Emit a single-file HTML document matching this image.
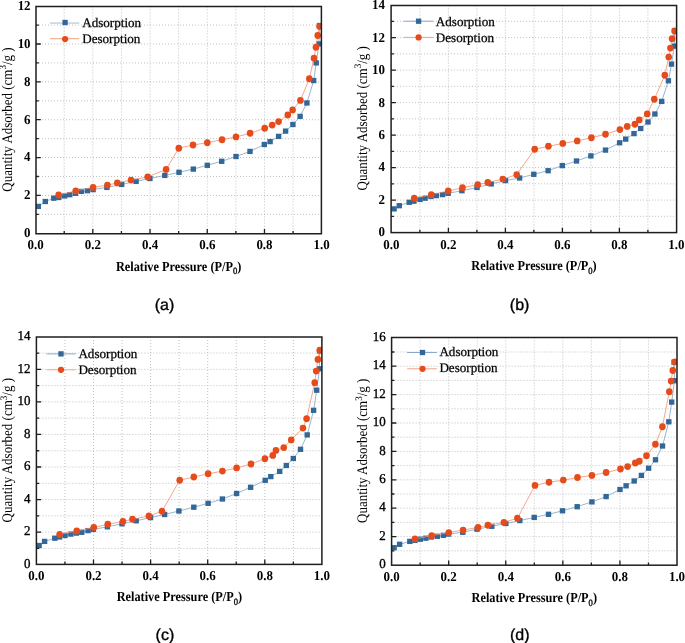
<!DOCTYPE html>
<html><head><meta charset="utf-8"><style>
html,body{margin:0;padding:0;background:#fff;}
body{width:685px;height:643px;overflow:hidden;position:relative;}
svg{position:absolute;left:0;top:0;will-change:transform;}
</style></head><body>
<svg width="685" height="643" viewBox="0 0 685 643" text-rendering="geometricPrecision">
<path d="M64.21 6.5V233.75M92.82 6.5V233.75M121.43 6.5V233.75M150.04 6.5V233.75M178.65 6.5V233.75M207.26 6.5V233.75M235.87 6.5V233.75M264.48 6.5V233.75M293.09 6.5V233.75M36 214.37H321.4M36 195.44H321.4M36 176.51H321.4M36 157.58H321.4M36 138.65H321.4M36 119.72H321.4M36 100.79H321.4M36 81.86H321.4M36 62.93H321.4M36 44H321.4M36 25.07H321.4" stroke="#b0b0b0" stroke-width="0.8" stroke-dasharray="1 2" fill="none"/>
<clipPath id="clipa"><rect x="36" y="6.5" width="285.4" height="227.25"/></clipPath><g clip-path="url(#clipa)">
<polyline points="38.3,206.4 45.3,201.5 53.8,198.2 58.8,197.5 64.6,195.9 69.7,194.7 75.5,193.3 81.4,191.4 87.4,190.7 93.1,189.6 106.9,187.4 121.7,184.4 136.1,181.4 149.9,178.5 164.8,175.4 179,172.3 193.3,169.1 207.3,165.3 221.7,161.3 236,156.5 250,151.4 264.3,144.5 270.1,141.6 278.6,136.4 285.6,131.1 292.9,124.5 300.1,116.4 306.9,103 313.7,80.6 316.2,62.9 318.9,43.9 319.5,25.5" stroke="#7fa3c8" stroke-width="0.8" fill="none"/>
<g fill="#336797"><rect x="35.6" y="203.75" width="5.4" height="5.3"/><rect x="42.6" y="198.85" width="5.4" height="5.3"/><rect x="51.1" y="195.55" width="5.4" height="5.3"/><rect x="56.1" y="194.85" width="5.4" height="5.3"/><rect x="61.9" y="193.25" width="5.4" height="5.3"/><rect x="67" y="192.05" width="5.4" height="5.3"/><rect x="72.8" y="190.65" width="5.4" height="5.3"/><rect x="78.7" y="188.75" width="5.4" height="5.3"/><rect x="84.7" y="188.05" width="5.4" height="5.3"/><rect x="90.4" y="186.95" width="5.4" height="5.3"/><rect x="104.2" y="184.75" width="5.4" height="5.3"/><rect x="119" y="181.75" width="5.4" height="5.3"/><rect x="133.4" y="178.75" width="5.4" height="5.3"/><rect x="147.2" y="175.85" width="5.4" height="5.3"/><rect x="162.1" y="172.75" width="5.4" height="5.3"/><rect x="176.3" y="169.65" width="5.4" height="5.3"/><rect x="190.6" y="166.45" width="5.4" height="5.3"/><rect x="204.6" y="162.65" width="5.4" height="5.3"/><rect x="219" y="158.65" width="5.4" height="5.3"/><rect x="233.3" y="153.85" width="5.4" height="5.3"/><rect x="247.3" y="148.75" width="5.4" height="5.3"/><rect x="261.6" y="141.85" width="5.4" height="5.3"/><rect x="267.4" y="138.95" width="5.4" height="5.3"/><rect x="275.9" y="133.75" width="5.4" height="5.3"/><rect x="282.9" y="128.45" width="5.4" height="5.3"/><rect x="290.2" y="121.85" width="5.4" height="5.3"/><rect x="297.4" y="113.75" width="5.4" height="5.3"/><rect x="304.2" y="100.35" width="5.4" height="5.3"/><rect x="311" y="77.95" width="5.4" height="5.3"/><rect x="313.5" y="60.25" width="5.4" height="5.3"/><rect x="316.2" y="41.25" width="5.4" height="5.3"/><rect x="316.8" y="22.85" width="5.4" height="5.3"/></g>
<polyline points="58.6,195 75.7,190.9 93.1,187.4 107.4,185.1 117.3,182.9 131,180.1 147.7,176.9 166.1,169.4 178.8,148.2 193,145 207.3,142.7 222,139.7 236,136.9 250.1,133.3 264.7,128.2 272.2,125.1 278.6,121.6 287.8,115 292.6,110 300.4,100.4 309.3,78.7 314,58.2 315.95,47.2 317.7,35.5 319.6,26.4" stroke="#f0906e" stroke-width="0.8" fill="none"/>
<g fill="#e54b1b"><ellipse cx="58.6" cy="195" rx="3.3" ry="3.45"/><ellipse cx="75.7" cy="190.9" rx="3.3" ry="3.45"/><ellipse cx="93.1" cy="187.4" rx="3.3" ry="3.45"/><ellipse cx="107.4" cy="185.1" rx="3.3" ry="3.45"/><ellipse cx="117.3" cy="182.9" rx="3.3" ry="3.45"/><ellipse cx="131" cy="180.1" rx="3.3" ry="3.45"/><ellipse cx="147.7" cy="176.9" rx="3.3" ry="3.45"/><ellipse cx="166.1" cy="169.4" rx="3.3" ry="3.45"/><ellipse cx="178.8" cy="148.2" rx="3.3" ry="3.45"/><ellipse cx="193" cy="145" rx="3.3" ry="3.45"/><ellipse cx="207.3" cy="142.7" rx="3.3" ry="3.45"/><ellipse cx="222" cy="139.7" rx="3.3" ry="3.45"/><ellipse cx="236" cy="136.9" rx="3.3" ry="3.45"/><ellipse cx="250.1" cy="133.3" rx="3.3" ry="3.45"/><ellipse cx="264.7" cy="128.2" rx="3.3" ry="3.45"/><ellipse cx="272.2" cy="125.1" rx="3.3" ry="3.45"/><ellipse cx="278.6" cy="121.6" rx="3.3" ry="3.45"/><ellipse cx="287.8" cy="115" rx="3.3" ry="3.45"/><ellipse cx="292.6" cy="110" rx="3.3" ry="3.45"/><ellipse cx="300.4" cy="100.4" rx="3.3" ry="3.45"/><ellipse cx="309.3" cy="78.7" rx="3.3" ry="3.45"/><ellipse cx="314" cy="58.2" rx="3.3" ry="3.45"/><ellipse cx="315.95" cy="47.2" rx="3.3" ry="3.45"/><ellipse cx="317.7" cy="35.5" rx="3.3" ry="3.45"/><ellipse cx="319.6" cy="26.4" rx="3.3" ry="3.45"/></g></g>
<path d="M50 23.1H79.3" stroke="#c2d3e6" stroke-width="1.5"/>
<rect x="62.45" y="19.85" width="5.3" height="5.3" fill="#336797"/>
<path d="M50 38.7H79.3" stroke="#f5a98c" stroke-width="1.1"/>
<circle cx="65.1" cy="39.1" r="3.1" fill="#e54b1b"/>
<text transform="translate(82.2,26.9) scale(1,1.0)" font-family='"Liberation Serif", serif' font-size="13.1" stroke="#000" stroke-width="0.25">Adsorption</text>
<text transform="translate(82.2,42.9) scale(1,1.0)" font-family='"Liberation Serif", serif' font-size="13.1" stroke="#000" stroke-width="0.25">Desorption</text>
<path d="M64.21 233.75v-2.8M92.82 233.75v-4.8M121.43 233.75v-2.8M150.04 233.75v-4.8M178.65 233.75v-2.8M207.26 233.75v-4.8M235.87 233.75v-2.8M264.48 233.75v-4.8M293.09 233.75v-2.8M36 214.37h2.8M36 195.44h4.8M36 176.51h2.8M36 157.58h4.8M36 138.65h2.8M36 119.72h4.8M36 100.79h2.8M36 81.86h4.8M36 62.93h2.8M36 44h4.8M36 25.07h2.8" stroke="#1e1e1e" stroke-width="1.3" fill="none"/>
<rect x="36" y="6.5" width="285.4" height="227.25" stroke="#1e1e1e" stroke-width="1.5" fill="none"/>
<g font-family='"Liberation Serif", serif' font-weight="bold" font-size="13.5" fill="#000"><text transform="translate(30.6,237.2) scale(0.96,1.0)" text-anchor="end" font-weight="bold">0</text><text transform="translate(30.6,199.34) scale(0.96,1.0)" text-anchor="end" font-weight="bold">2</text><text transform="translate(30.6,161.48) scale(0.96,1.0)" text-anchor="end" font-weight="bold">4</text><text transform="translate(30.6,123.62) scale(0.96,1.0)" text-anchor="end" font-weight="bold">6</text><text transform="translate(30.6,85.76) scale(0.96,1.0)" text-anchor="end" font-weight="bold">8</text><text transform="translate(30.6,47.9) scale(0.96,1.0)" text-anchor="end" font-weight="bold">10</text><text transform="translate(30.6,10.04) scale(0.96,1.0)" text-anchor="end" font-weight="bold">12</text><text transform="translate(35.6,249) scale(0.96,1.0)" text-anchor="middle">0.0</text><text transform="translate(92.82,249) scale(0.96,1.0)" text-anchor="middle">0.2</text><text transform="translate(150.04,249) scale(0.96,1.0)" text-anchor="middle">0.4</text><text transform="translate(207.26,249) scale(0.96,1.0)" text-anchor="middle">0.6</text><text transform="translate(264.48,249) scale(0.96,1.0)" text-anchor="middle">0.8</text><text transform="translate(321.7,249) scale(0.96,1.0)" text-anchor="middle">1.0</text></g>
<text transform="translate(11.5,119.5) rotate(-90) scale(1,1.12)" text-anchor="middle" font-family='"Liberation Serif", serif' font-size="13.03">Quantity Adsorbed (cm<tspan font-size="9" dy="-4.8">3</tspan><tspan dy="4.8">/g )</tspan></text>
<text transform="translate(178.6,270.5) scale(1,1.12)" text-anchor="middle" font-family='"Liberation Serif", serif' font-weight="bold" font-size="12.3">Relative Pressure (P/P<tspan font-size="8.6" font-weight="normal" stroke="#000" stroke-width="0.3" dy="3.3">0</tspan><tspan dy="-3.3">)</tspan></text>
<text x="164.5" y="309.6" text-anchor="middle" font-family='"Liberation Sans", sans-serif' font-size="16" stroke="#000" stroke-width="0.35">(a)</text>
<path d="M419.9 5.5V232.6M448.4 5.5V232.6M476.9 5.5V232.6M505.4 5.5V232.6M533.9 5.5V232.6M562.4 5.5V232.6M590.9 5.5V232.6M619.4 5.5V232.6M647.9 5.5V232.6M391.1 216.31H676.6M391.1 200.07H676.6M391.1 183.82H676.6M391.1 167.58H676.6M391.1 151.33H676.6M391.1 135.09H676.6M391.1 118.84H676.6M391.1 102.6H676.6M391.1 86.35H676.6M391.1 70.11H676.6M391.1 53.86H676.6M391.1 37.62H676.6M391.1 21.38H676.6" stroke="#b0b0b0" stroke-width="0.8" stroke-dasharray="1 2" fill="none"/>
<clipPath id="clipb"><rect x="391.1" y="5.5" width="285.5" height="227.1"/></clipPath><g clip-path="url(#clipb)">
<polyline points="394.1,208.9 399.3,205.7 409.2,202.3 413.9,201.2 420,199.4 425.1,198.2 431,196.5 436.4,195.6 442.7,194.6 448.2,193.3 461.9,190.7 477,187.5 491.2,183.9 505.5,180.6 519.6,178 533.8,174.3 548.1,170.7 562.3,165.6 576.5,161 590.9,155.9 605.5,150.1 619.6,142.8 625.7,139.1 634,133.6 640.7,128.5 648,122 654.9,114 661.7,101.4 668.4,80.8 671.5,64.1 674.3,46.1 674.6,30.7" stroke="#7fa3c8" stroke-width="0.8" fill="none"/>
<g fill="#336797"><rect x="391.4" y="206.25" width="5.4" height="5.3"/><rect x="396.6" y="203.05" width="5.4" height="5.3"/><rect x="406.5" y="199.65" width="5.4" height="5.3"/><rect x="411.2" y="198.55" width="5.4" height="5.3"/><rect x="417.3" y="196.75" width="5.4" height="5.3"/><rect x="422.4" y="195.55" width="5.4" height="5.3"/><rect x="428.3" y="193.85" width="5.4" height="5.3"/><rect x="433.7" y="192.95" width="5.4" height="5.3"/><rect x="440" y="191.95" width="5.4" height="5.3"/><rect x="445.5" y="190.65" width="5.4" height="5.3"/><rect x="459.2" y="188.05" width="5.4" height="5.3"/><rect x="474.3" y="184.85" width="5.4" height="5.3"/><rect x="488.5" y="181.25" width="5.4" height="5.3"/><rect x="502.8" y="177.95" width="5.4" height="5.3"/><rect x="516.9" y="175.35" width="5.4" height="5.3"/><rect x="531.1" y="171.65" width="5.4" height="5.3"/><rect x="545.4" y="168.05" width="5.4" height="5.3"/><rect x="559.6" y="162.95" width="5.4" height="5.3"/><rect x="573.8" y="158.35" width="5.4" height="5.3"/><rect x="588.2" y="153.25" width="5.4" height="5.3"/><rect x="602.8" y="147.45" width="5.4" height="5.3"/><rect x="616.9" y="140.15" width="5.4" height="5.3"/><rect x="623" y="136.45" width="5.4" height="5.3"/><rect x="631.3" y="130.95" width="5.4" height="5.3"/><rect x="638" y="125.85" width="5.4" height="5.3"/><rect x="645.3" y="119.35" width="5.4" height="5.3"/><rect x="652.2" y="111.35" width="5.4" height="5.3"/><rect x="659" y="98.75" width="5.4" height="5.3"/><rect x="665.7" y="78.15" width="5.4" height="5.3"/><rect x="668.8" y="61.45" width="5.4" height="5.3"/><rect x="671.6" y="43.45" width="5.4" height="5.3"/><rect x="671.9" y="28.05" width="5.4" height="5.3"/></g>
<polyline points="414.2,198.2 431.3,194.7 448.2,191 462.5,187.7 477.7,184.7 487.8,182.5 502.8,179.1 516.7,174.7 534.7,149.2 548.4,146.3 562.8,143.4 577.2,140.9 591.4,137.7 605.5,134.3 619.9,129.6 627.2,126.4 634.9,124.2 639.3,119.9 647.2,113.9 654.3,99.2 664.8,75.3 668.7,57.1 670.4,48.1 672.1,38.8 674.6,31" stroke="#f0906e" stroke-width="0.8" fill="none"/>
<g fill="#e54b1b"><ellipse cx="414.2" cy="198.2" rx="3.3" ry="3.45"/><ellipse cx="431.3" cy="194.7" rx="3.3" ry="3.45"/><ellipse cx="448.2" cy="191" rx="3.3" ry="3.45"/><ellipse cx="462.5" cy="187.7" rx="3.3" ry="3.45"/><ellipse cx="477.7" cy="184.7" rx="3.3" ry="3.45"/><ellipse cx="487.8" cy="182.5" rx="3.3" ry="3.45"/><ellipse cx="502.8" cy="179.1" rx="3.3" ry="3.45"/><ellipse cx="516.7" cy="174.7" rx="3.3" ry="3.45"/><ellipse cx="534.7" cy="149.2" rx="3.3" ry="3.45"/><ellipse cx="548.4" cy="146.3" rx="3.3" ry="3.45"/><ellipse cx="562.8" cy="143.4" rx="3.3" ry="3.45"/><ellipse cx="577.2" cy="140.9" rx="3.3" ry="3.45"/><ellipse cx="591.4" cy="137.7" rx="3.3" ry="3.45"/><ellipse cx="605.5" cy="134.3" rx="3.3" ry="3.45"/><ellipse cx="619.9" cy="129.6" rx="3.3" ry="3.45"/><ellipse cx="627.2" cy="126.4" rx="3.3" ry="3.45"/><ellipse cx="634.9" cy="124.2" rx="3.3" ry="3.45"/><ellipse cx="639.3" cy="119.9" rx="3.3" ry="3.45"/><ellipse cx="647.2" cy="113.9" rx="3.3" ry="3.45"/><ellipse cx="654.3" cy="99.2" rx="3.3" ry="3.45"/><ellipse cx="664.8" cy="75.3" rx="3.3" ry="3.45"/><ellipse cx="668.7" cy="57.1" rx="3.3" ry="3.45"/><ellipse cx="670.4" cy="48.1" rx="3.3" ry="3.45"/><ellipse cx="672.1" cy="38.8" rx="3.3" ry="3.45"/><ellipse cx="674.6" cy="31" rx="3.3" ry="3.45"/></g></g>
<path d="M403.5 21.2H433.3" stroke="#8aa8cd" stroke-width="1.0"/>
<rect x="415.95" y="18.55" width="5.3" height="5.3" fill="#336797"/>
<path d="M403.5 37.4H433.3" stroke="#f3a283" stroke-width="1.0"/>
<circle cx="418.6" cy="37.4" r="3.1" fill="#e54b1b"/>
<text transform="translate(435.8,25.6) scale(1,1.0)" font-family='"Liberation Serif", serif' font-size="13.1" stroke="#000" stroke-width="0.25">Adsorption</text>
<text transform="translate(435.8,41.6) scale(1,1.0)" font-family='"Liberation Serif", serif' font-size="13.1" stroke="#000" stroke-width="0.25">Desorption</text>
<path d="M419.9 232.6v-2.8M448.4 232.6v-4.8M476.9 232.6v-2.8M505.4 232.6v-4.8M533.9 232.6v-2.8M562.4 232.6v-4.8M590.9 232.6v-2.8M619.4 232.6v-4.8M647.9 232.6v-2.8M391.1 216.31h2.8M391.1 200.07h4.8M391.1 183.82h2.8M391.1 167.58h4.8M391.1 151.33h2.8M391.1 135.09h4.8M391.1 118.84h2.8M391.1 102.6h4.8M391.1 86.35h2.8M391.1 70.11h4.8M391.1 53.86h2.8M391.1 37.62h4.8M391.1 21.38h2.8" stroke="#1e1e1e" stroke-width="1.3" fill="none"/>
<rect x="391.1" y="5.5" width="285.5" height="227.1" stroke="#1e1e1e" stroke-width="1.5" fill="none"/>
<g font-family='"Liberation Serif", serif' font-weight="bold" font-size="13.5" fill="#000"><text transform="translate(385,236.46) scale(0.96,1.0)" text-anchor="end" font-weight="bold">0</text><text transform="translate(385,203.97) scale(0.96,1.0)" text-anchor="end" font-weight="bold">2</text><text transform="translate(385,171.48) scale(0.96,1.0)" text-anchor="end" font-weight="bold">4</text><text transform="translate(385,138.99) scale(0.96,1.0)" text-anchor="end" font-weight="bold">6</text><text transform="translate(385,106.5) scale(0.96,1.0)" text-anchor="end" font-weight="bold">8</text><text transform="translate(385,74.01) scale(0.96,1.0)" text-anchor="end" font-weight="bold">10</text><text transform="translate(385,41.52) scale(0.96,1.0)" text-anchor="end" font-weight="bold">12</text><text transform="translate(385,9.03) scale(0.96,1.0)" text-anchor="end" font-weight="bold">14</text><text transform="translate(391.4,248.6) scale(0.96,1.0)" text-anchor="middle">0.0</text><text transform="translate(448.4,248.6) scale(0.96,1.0)" text-anchor="middle">0.2</text><text transform="translate(505.4,248.6) scale(0.96,1.0)" text-anchor="middle">0.4</text><text transform="translate(562.4,248.6) scale(0.96,1.0)" text-anchor="middle">0.6</text><text transform="translate(619.4,248.6) scale(0.96,1.0)" text-anchor="middle">0.8</text><text transform="translate(676.4,248.6) scale(0.96,1.0)" text-anchor="middle">1.0</text></g>
<text transform="translate(366.8,118.25) rotate(-90) scale(1,1.12)" text-anchor="middle" font-family='"Liberation Serif", serif' font-size="13.03">Quantity Adsorbed (cm<tspan font-size="9" dy="-4.8">3</tspan><tspan dy="4.8">/g )</tspan></text>
<text transform="translate(534,269.8) scale(1,1.12)" text-anchor="middle" font-family='"Liberation Serif", serif' font-weight="bold" font-size="12.3">Relative Pressure (P/P<tspan font-size="8.6" font-weight="normal" stroke="#000" stroke-width="0.3" dy="3.3">0</tspan><tspan dy="-3.3">)</tspan></text>
<text x="519.6" y="309.6" text-anchor="middle" font-family='"Liberation Sans", sans-serif' font-size="16" stroke="#000" stroke-width="0.35">(b)</text>
<path d="M64.95 337V564.4M93.5 337V564.4M122.05 337V564.4M150.6 337V564.4M179.15 337V564.4M207.7 337V564.4M236.25 337V564.4M264.8 337V564.4M293.35 337V564.4M36.4 548.42H321.9M36.4 532.14H321.9M36.4 515.86H321.9M36.4 499.58H321.9M36.4 483.3H321.9M36.4 467.02H321.9M36.4 450.74H321.9M36.4 434.46H321.9M36.4 418.18H321.9M36.4 401.9H321.9M36.4 385.62H321.9M36.4 369.34H321.9M36.4 353.06H321.9" stroke="#b0b0b0" stroke-width="0.8" stroke-dasharray="1 2" fill="none"/>
<clipPath id="clipc"><rect x="36.4" y="337" width="285.5" height="227.4"/></clipPath><g clip-path="url(#clipc)">
<polyline points="39.1,545.5 44.6,541.4 54.8,538.2 59.5,537 65,535.5 70.9,534.1 76.4,533.1 81.8,532.3 88,530.6 93.2,529.4 107.4,526.8 122,523.8 136.2,520.8 150.5,517.6 164.6,514.5 178.9,511 193.8,507.2 208.1,503.3 222.4,499 236.6,493.5 250.6,487.3 265.2,480.3 270.8,476.6 279.7,471.4 286.3,465.5 293.3,458.5 300.5,449.3 307.2,434.9 313.6,410.3 316.7,390.2 319.5,368.8 319.6,350.9" stroke="#7fa3c8" stroke-width="0.8" fill="none"/>
<g fill="#336797"><rect x="36.4" y="542.85" width="5.4" height="5.3"/><rect x="41.9" y="538.75" width="5.4" height="5.3"/><rect x="52.1" y="535.55" width="5.4" height="5.3"/><rect x="56.8" y="534.35" width="5.4" height="5.3"/><rect x="62.3" y="532.85" width="5.4" height="5.3"/><rect x="68.2" y="531.45" width="5.4" height="5.3"/><rect x="73.7" y="530.45" width="5.4" height="5.3"/><rect x="79.1" y="529.65" width="5.4" height="5.3"/><rect x="85.3" y="527.95" width="5.4" height="5.3"/><rect x="90.5" y="526.75" width="5.4" height="5.3"/><rect x="104.7" y="524.15" width="5.4" height="5.3"/><rect x="119.3" y="521.15" width="5.4" height="5.3"/><rect x="133.5" y="518.15" width="5.4" height="5.3"/><rect x="147.8" y="514.95" width="5.4" height="5.3"/><rect x="161.9" y="511.85" width="5.4" height="5.3"/><rect x="176.2" y="508.35" width="5.4" height="5.3"/><rect x="191.1" y="504.55" width="5.4" height="5.3"/><rect x="205.4" y="500.65" width="5.4" height="5.3"/><rect x="219.7" y="496.35" width="5.4" height="5.3"/><rect x="233.9" y="490.85" width="5.4" height="5.3"/><rect x="247.9" y="484.65" width="5.4" height="5.3"/><rect x="262.5" y="477.65" width="5.4" height="5.3"/><rect x="268.1" y="473.95" width="5.4" height="5.3"/><rect x="277" y="468.75" width="5.4" height="5.3"/><rect x="283.6" y="462.85" width="5.4" height="5.3"/><rect x="290.6" y="455.85" width="5.4" height="5.3"/><rect x="297.8" y="446.65" width="5.4" height="5.3"/><rect x="304.5" y="432.25" width="5.4" height="5.3"/><rect x="310.9" y="407.65" width="5.4" height="5.3"/><rect x="314" y="387.55" width="5.4" height="5.3"/><rect x="316.8" y="366.15" width="5.4" height="5.3"/><rect x="316.9" y="348.25" width="5.4" height="5.3"/></g>
<polyline points="59.6,534.5 76.7,530.9 93.8,527.5 107.8,524.3 122.9,521.4 132.5,519.3 148.9,516 162,511.3 179.7,480.2 193.8,477 208.1,473.8 222.4,471.1 236.6,467.9 251,464 264.9,458.7 272.8,455.4 275.9,450.4 283.8,447.6 291.2,439.9 303,428.1 306.6,418.8 314.7,382.8 316.2,371.1 317.9,359.4 319.8,350.3" stroke="#f0906e" stroke-width="0.8" fill="none"/>
<g fill="#e54b1b"><ellipse cx="59.6" cy="534.5" rx="3.3" ry="3.45"/><ellipse cx="76.7" cy="530.9" rx="3.3" ry="3.45"/><ellipse cx="93.8" cy="527.5" rx="3.3" ry="3.45"/><ellipse cx="107.8" cy="524.3" rx="3.3" ry="3.45"/><ellipse cx="122.9" cy="521.4" rx="3.3" ry="3.45"/><ellipse cx="132.5" cy="519.3" rx="3.3" ry="3.45"/><ellipse cx="148.9" cy="516" rx="3.3" ry="3.45"/><ellipse cx="162" cy="511.3" rx="3.3" ry="3.45"/><ellipse cx="179.7" cy="480.2" rx="3.3" ry="3.45"/><ellipse cx="193.8" cy="477" rx="3.3" ry="3.45"/><ellipse cx="208.1" cy="473.8" rx="3.3" ry="3.45"/><ellipse cx="222.4" cy="471.1" rx="3.3" ry="3.45"/><ellipse cx="236.6" cy="467.9" rx="3.3" ry="3.45"/><ellipse cx="251" cy="464" rx="3.3" ry="3.45"/><ellipse cx="264.9" cy="458.7" rx="3.3" ry="3.45"/><ellipse cx="272.8" cy="455.4" rx="3.3" ry="3.45"/><ellipse cx="275.9" cy="450.4" rx="3.3" ry="3.45"/><ellipse cx="283.8" cy="447.6" rx="3.3" ry="3.45"/><ellipse cx="291.2" cy="439.9" rx="3.3" ry="3.45"/><ellipse cx="303" cy="428.1" rx="3.3" ry="3.45"/><ellipse cx="306.6" cy="418.8" rx="3.3" ry="3.45"/><ellipse cx="314.7" cy="382.8" rx="3.3" ry="3.45"/><ellipse cx="316.2" cy="371.1" rx="3.3" ry="3.45"/><ellipse cx="317.9" cy="359.4" rx="3.3" ry="3.45"/><ellipse cx="319.8" cy="350.3" rx="3.3" ry="3.45"/></g></g>
<path d="M46.4 353.9H75.7" stroke="#8aa8cd" stroke-width="1.0"/>
<rect x="58.35" y="351.25" width="5.3" height="5.3" fill="#336797"/>
<path d="M46.4 369.8H75.7" stroke="#f5a98c" stroke-width="1.0"/>
<circle cx="61" cy="369.8" r="3.1" fill="#e54b1b"/>
<text transform="translate(78.4,357.8) scale(1,1.0)" font-family='"Liberation Serif", serif' font-size="13.1" stroke="#000" stroke-width="0.25">Adsorption</text>
<text transform="translate(78.4,373.6) scale(1,1.0)" font-family='"Liberation Serif", serif' font-size="13.1" stroke="#000" stroke-width="0.25">Desorption</text>
<path d="M64.95 564.4v-2.8M93.5 564.4v-4.8M122.05 564.4v-2.8M150.6 564.4v-4.8M179.15 564.4v-2.8M207.7 564.4v-4.8M236.25 564.4v-2.8M264.8 564.4v-4.8M293.35 564.4v-2.8M36.4 548.42h2.8M36.4 532.14h4.8M36.4 515.86h2.8M36.4 499.58h4.8M36.4 483.3h2.8M36.4 467.02h4.8M36.4 450.74h2.8M36.4 434.46h4.8M36.4 418.18h2.8M36.4 401.9h4.8M36.4 385.62h2.8M36.4 369.34h4.8M36.4 353.06h2.8" stroke="#1e1e1e" stroke-width="1.3" fill="none"/>
<rect x="36.4" y="337" width="285.5" height="227.4" stroke="#1e1e1e" stroke-width="1.5" fill="none"/>
<g font-family='"Liberation Serif", serif' font-weight="bold" font-size="13.5" fill="#000"><text transform="translate(30.5,567.9) scale(0.96,1.0)" text-anchor="end" font-weight="normal" stroke="#000" stroke-width="0.35">0</text><text transform="translate(30.5,535.34) scale(0.96,1.0)" text-anchor="end" font-weight="normal" stroke="#000" stroke-width="0.35">2</text><text transform="translate(30.5,502.78) scale(0.96,1.0)" text-anchor="end" font-weight="normal" stroke="#000" stroke-width="0.35">4</text><text transform="translate(30.5,470.22) scale(0.96,1.0)" text-anchor="end" font-weight="normal" stroke="#000" stroke-width="0.35">6</text><text transform="translate(30.5,437.66) scale(0.96,1.0)" text-anchor="end" font-weight="normal" stroke="#000" stroke-width="0.35">8</text><text transform="translate(30.5,405.1) scale(0.96,1.0)" text-anchor="end" font-weight="normal" stroke="#000" stroke-width="0.35">10</text><text transform="translate(30.5,372.54) scale(0.96,1.0)" text-anchor="end" font-weight="normal" stroke="#000" stroke-width="0.35">12</text><text transform="translate(30.5,339.98) scale(0.96,1.0)" text-anchor="end" font-weight="normal" stroke="#000" stroke-width="0.35">14</text><text transform="translate(36.4,580) scale(0.96,1.0)" text-anchor="middle">0.0</text><text transform="translate(93.5,580) scale(0.96,1.0)" text-anchor="middle">0.2</text><text transform="translate(150.6,580) scale(0.96,1.0)" text-anchor="middle">0.4</text><text transform="translate(207.7,580) scale(0.96,1.0)" text-anchor="middle">0.6</text><text transform="translate(264.8,580) scale(0.96,1.0)" text-anchor="middle">0.8</text><text transform="translate(321.9,580) scale(0.96,1.0)" text-anchor="middle">1.0</text></g>
<text transform="translate(12,450.2) rotate(-90) scale(1,1.12)" text-anchor="middle" font-family='"Liberation Serif", serif' font-size="13.03">Quantity Adsorbed (cm<tspan font-size="9" dy="-4.8">3</tspan><tspan dy="4.8">/g )</tspan></text>
<text transform="translate(179.4,601.4) scale(1,1.12)" text-anchor="middle" font-family='"Liberation Serif", serif' font-weight="bold" font-size="12.3">Relative Pressure (P/P<tspan font-size="8.6" font-weight="normal" stroke="#000" stroke-width="0.3" dy="3.3">0</tspan><tspan dy="-3.3">)</tspan></text>
<text x="164.9" y="639.6" text-anchor="middle" font-family='"Liberation Sans", sans-serif' font-size="16" stroke="#000" stroke-width="0.35">(c)</text>
<path d="M420.14 337.5V565.2M448.68 337.5V565.2M477.22 337.5V565.2M505.76 337.5V565.2M534.3 337.5V565.2M562.84 337.5V565.2M591.38 337.5V565.2M619.92 337.5V565.2M648.46 337.5V565.2M391.6 550.8H677M391.6 536.6H677M391.6 522.4H677M391.6 508.2H677M391.6 494H677M391.6 479.8H677M391.6 465.6H677M391.6 451.4H677M391.6 437.2H677M391.6 423H677M391.6 408.8H677M391.6 394.6H677M391.6 380.4H677M391.6 366.2H677M391.6 352H677" stroke="#b0b0b0" stroke-width="0.8" stroke-dasharray="1 2" fill="none"/>
<clipPath id="clipd"><rect x="391.6" y="337.5" width="285.4" height="227.7"/></clipPath><g clip-path="url(#clipd)">
<polyline points="394.1,547.7 399.6,544.3 409.8,541.4 414.9,540.4 420.3,539.2 425.9,538.2 431.4,537 437.3,536.3 443.4,535.3 448.6,534.1 462.8,532.3 477,529.2 491.8,526.3 505.8,523.5 519.8,520.6 534.2,517.4 548.5,514.3 562.5,510.8 577.2,506.7 591.9,501.9 606.1,496.6 620,489.5 626.1,485.8 634.2,481 641.4,475.4 648.6,468.2 655.5,459.8 662.5,446 668.8,421.8 671.7,402.1 674.5,380.7 674.1,362.2" stroke="#7fa3c8" stroke-width="0.8" fill="none"/>
<g fill="#336797"><rect x="391.4" y="545.05" width="5.4" height="5.3"/><rect x="396.9" y="541.65" width="5.4" height="5.3"/><rect x="407.1" y="538.75" width="5.4" height="5.3"/><rect x="412.2" y="537.75" width="5.4" height="5.3"/><rect x="417.6" y="536.55" width="5.4" height="5.3"/><rect x="423.2" y="535.55" width="5.4" height="5.3"/><rect x="428.7" y="534.35" width="5.4" height="5.3"/><rect x="434.6" y="533.65" width="5.4" height="5.3"/><rect x="440.7" y="532.65" width="5.4" height="5.3"/><rect x="445.9" y="531.45" width="5.4" height="5.3"/><rect x="460.1" y="529.65" width="5.4" height="5.3"/><rect x="474.3" y="526.55" width="5.4" height="5.3"/><rect x="489.1" y="523.65" width="5.4" height="5.3"/><rect x="503.1" y="520.85" width="5.4" height="5.3"/><rect x="517.1" y="517.95" width="5.4" height="5.3"/><rect x="531.5" y="514.75" width="5.4" height="5.3"/><rect x="545.8" y="511.65" width="5.4" height="5.3"/><rect x="559.8" y="508.15" width="5.4" height="5.3"/><rect x="574.5" y="504.05" width="5.4" height="5.3"/><rect x="589.2" y="499.25" width="5.4" height="5.3"/><rect x="603.4" y="493.95" width="5.4" height="5.3"/><rect x="617.3" y="486.85" width="5.4" height="5.3"/><rect x="623.4" y="483.15" width="5.4" height="5.3"/><rect x="631.5" y="478.35" width="5.4" height="5.3"/><rect x="638.7" y="472.75" width="5.4" height="5.3"/><rect x="645.9" y="465.55" width="5.4" height="5.3"/><rect x="652.8" y="457.15" width="5.4" height="5.3"/><rect x="659.8" y="443.35" width="5.4" height="5.3"/><rect x="666.1" y="419.15" width="5.4" height="5.3"/><rect x="669" y="399.45" width="5.4" height="5.3"/><rect x="671.8" y="378.05" width="5.4" height="5.3"/><rect x="671.4" y="359.55" width="5.4" height="5.3"/></g>
<polyline points="414.9,538.9 431.7,535.7 448.8,532.6 463.1,530.1 478.1,527.4 487.9,525.2 503.9,522.4 517.4,518.2 535,485.4 549,482.3 563.3,480.1 577.5,477.5 591.9,475.4 606.1,472.5 620.5,469 627.6,466.6 635.3,463 639.3,461.3 646.5,455.7 655.4,444.2 662.4,426.8 669.3,391.7 671.1,381.1 672.8,370.5 674.8,361.9" stroke="#f0906e" stroke-width="0.8" fill="none"/>
<g fill="#e54b1b"><ellipse cx="414.9" cy="538.9" rx="3.3" ry="3.45"/><ellipse cx="431.7" cy="535.7" rx="3.3" ry="3.45"/><ellipse cx="448.8" cy="532.6" rx="3.3" ry="3.45"/><ellipse cx="463.1" cy="530.1" rx="3.3" ry="3.45"/><ellipse cx="478.1" cy="527.4" rx="3.3" ry="3.45"/><ellipse cx="487.9" cy="525.2" rx="3.3" ry="3.45"/><ellipse cx="503.9" cy="522.4" rx="3.3" ry="3.45"/><ellipse cx="517.4" cy="518.2" rx="3.3" ry="3.45"/><ellipse cx="535" cy="485.4" rx="3.3" ry="3.45"/><ellipse cx="549" cy="482.3" rx="3.3" ry="3.45"/><ellipse cx="563.3" cy="480.1" rx="3.3" ry="3.45"/><ellipse cx="577.5" cy="477.5" rx="3.3" ry="3.45"/><ellipse cx="591.9" cy="475.4" rx="3.3" ry="3.45"/><ellipse cx="606.1" cy="472.5" rx="3.3" ry="3.45"/><ellipse cx="620.5" cy="469" rx="3.3" ry="3.45"/><ellipse cx="627.6" cy="466.6" rx="3.3" ry="3.45"/><ellipse cx="635.3" cy="463" rx="3.3" ry="3.45"/><ellipse cx="639.3" cy="461.3" rx="3.3" ry="3.45"/><ellipse cx="646.5" cy="455.7" rx="3.3" ry="3.45"/><ellipse cx="655.4" cy="444.2" rx="3.3" ry="3.45"/><ellipse cx="662.4" cy="426.8" rx="3.3" ry="3.45"/><ellipse cx="669.3" cy="391.7" rx="3.3" ry="3.45"/><ellipse cx="671.1" cy="381.1" rx="3.3" ry="3.45"/><ellipse cx="672.8" cy="370.5" rx="3.3" ry="3.45"/><ellipse cx="674.8" cy="361.9" rx="3.3" ry="3.45"/></g></g>
<path d="M407.1 352.5H436.9" stroke="#8aa8cd" stroke-width="1.0"/>
<rect x="419.85" y="349.85" width="5.3" height="5.3" fill="#336797"/>
<path d="M407.1 368.8H436.9" stroke="#f3a283" stroke-width="1.0"/>
<circle cx="422.5" cy="368.8" r="3.1" fill="#e54b1b"/>
<text transform="translate(439.4,356.4) scale(1,1.0)" font-family='"Liberation Serif", serif' font-size="13.1" stroke="#000" stroke-width="0.25">Adsorption</text>
<text transform="translate(439.4,372.4) scale(1,1.0)" font-family='"Liberation Serif", serif' font-size="13.1" stroke="#000" stroke-width="0.25">Desorption</text>
<path d="M420.14 565.2v-2.8M448.68 565.2v-4.8M477.22 565.2v-2.8M505.76 565.2v-4.8M534.3 565.2v-2.8M562.84 565.2v-4.8M591.38 565.2v-2.8M619.92 565.2v-4.8M648.46 565.2v-2.8M391.6 550.8h2.8M391.6 536.6h4.8M391.6 522.4h2.8M391.6 508.2h4.8M391.6 494h2.8M391.6 479.8h4.8M391.6 465.6h2.8M391.6 451.4h4.8M391.6 437.2h2.8M391.6 423h4.8M391.6 408.8h2.8M391.6 394.6h4.8M391.6 380.4h2.8M391.6 366.2h4.8M391.6 352h2.8" stroke="#1e1e1e" stroke-width="1.3" fill="none"/>
<rect x="391.6" y="337.5" width="285.4" height="227.7" stroke="#1e1e1e" stroke-width="1.5" fill="none"/>
<g font-family='"Liberation Serif", serif' font-weight="bold" font-size="13.5" fill="#000"><text transform="translate(385.7,568.2) scale(0.96,1.0)" text-anchor="end" font-weight="normal" stroke="#000" stroke-width="0.35">0</text><text transform="translate(385.7,539.8) scale(0.96,1.0)" text-anchor="end" font-weight="normal" stroke="#000" stroke-width="0.35">2</text><text transform="translate(385.7,511.4) scale(0.96,1.0)" text-anchor="end" font-weight="normal" stroke="#000" stroke-width="0.35">4</text><text transform="translate(385.7,483) scale(0.96,1.0)" text-anchor="end" font-weight="normal" stroke="#000" stroke-width="0.35">6</text><text transform="translate(385.7,454.6) scale(0.96,1.0)" text-anchor="end" font-weight="normal" stroke="#000" stroke-width="0.35">8</text><text transform="translate(385.7,426.2) scale(0.96,1.0)" text-anchor="end" font-weight="normal" stroke="#000" stroke-width="0.35">10</text><text transform="translate(385.7,397.8) scale(0.96,1.0)" text-anchor="end" font-weight="normal" stroke="#000" stroke-width="0.35">12</text><text transform="translate(385.7,369.4) scale(0.96,1.0)" text-anchor="end" font-weight="normal" stroke="#000" stroke-width="0.35">14</text><text transform="translate(385.7,341) scale(0.96,1.0)" text-anchor="end" font-weight="normal" stroke="#000" stroke-width="0.35">16</text><text transform="translate(391.6,581.2) scale(0.96,1.0)" text-anchor="middle">0.0</text><text transform="translate(448.68,581.2) scale(0.96,1.0)" text-anchor="middle">0.2</text><text transform="translate(505.76,581.2) scale(0.96,1.0)" text-anchor="middle">0.4</text><text transform="translate(562.84,581.2) scale(0.96,1.0)" text-anchor="middle">0.6</text><text transform="translate(619.92,581.2) scale(0.96,1.0)" text-anchor="middle">0.8</text><text transform="translate(677,581.2) scale(0.96,1.0)" text-anchor="middle">1.0</text></g>
<text transform="translate(367.2,450.8) rotate(-90) scale(1,1.12)" text-anchor="middle" font-family='"Liberation Serif", serif' font-size="13.03">Quantity Adsorbed (cm<tspan font-size="9" dy="-4.8">3</tspan><tspan dy="4.8">/g )</tspan></text>
<text transform="translate(534.3,601.8) scale(1,1.12)" text-anchor="middle" font-family='"Liberation Serif", serif' font-weight="bold" font-size="12.3">Relative Pressure (P/P<tspan font-size="8.6" font-weight="normal" stroke="#000" stroke-width="0.3" dy="3.3">0</tspan><tspan dy="-3.3">)</tspan></text>
<text x="519.7" y="639.6" text-anchor="middle" font-family='"Liberation Sans", sans-serif' font-size="16" stroke="#000" stroke-width="0.35">(d)</text>
</svg>
</body></html>
